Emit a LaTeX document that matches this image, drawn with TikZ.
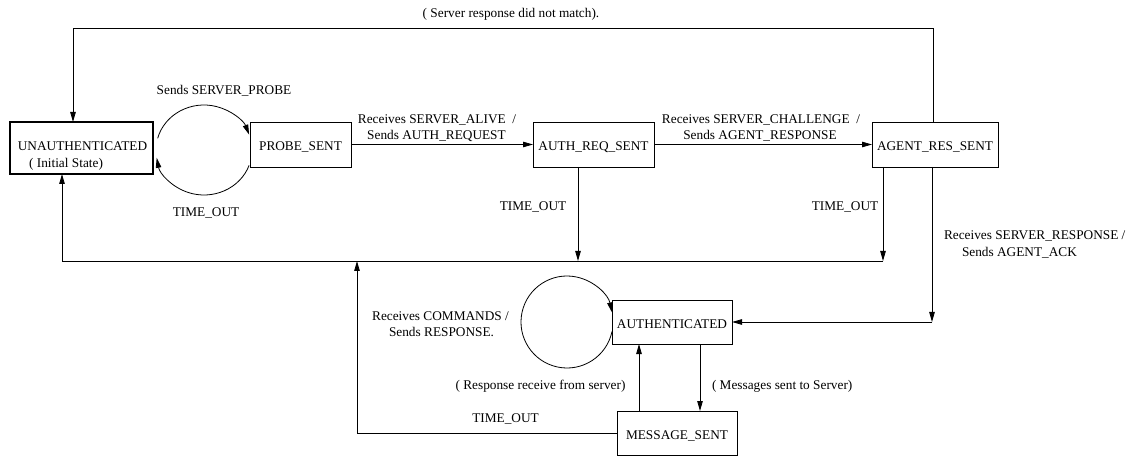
\documentclass[tikz,border=0pt]{standalone}
\usepackage{fontspec}
\setmainfont{Liberation Serif}
\usetikzlibrary{arrows.meta,calc}
\begin{document}
\begin{tikzpicture}[x=1pt,y=1pt,
  every node/.style={font=\fontsize{13.3}{16}\selectfont, inner sep=0pt, outer sep=0pt},
  state/.style={draw, line width=0.8pt, text height=12pt, text depth=0pt},
  lbl/.style={anchor=base},
  lblw/.style={anchor=base west},
  wire/.style={line width=0.8pt},
  arr/.style={wire, -{Triangle[length=10pt,width=5.5pt]}},
]
\useasboundingbox (0,0) rectangle (1128,-457);

% states
\node[state, line width=2.6pt, minimum width=143pt, minimum height=52pt] (unauth) at (81.5,-148) {};
\node[lbl] (unauthA) at (82.5,-150.5) {UNAUTHENTICATED};
\node[lbl] (unauthB) at (66,-167.5) {( Initial State)};
\node[state, minimum width=101pt, minimum height=45pt] (probe) at (300.5,-144.5) {PROBE\_SENT};
\node[state, minimum width=121pt, minimum height=45pt] (authreq) at (593.5,-144.5) {AUTH\_REQ\_SENT};
\node[state, minimum width=126pt, minimum height=45pt] (agent) at (935,-144.5) {AGENT\_RES\_SENT};
\node[state, minimum width=120pt, minimum height=44pt] (auth) at (672,-322) {AUTHENTICATED};
\node[state, minimum width=120pt, minimum height=44pt] (msg) at (677,-433) {MESSAGE\_SENT};

% routing points
\coordinate (topR) at (933,-28);
\coordinate (topL) at (73,-28);
\coordinate (busR) at (883,-261);
\coordinate (busA) at (578,-261);
\coordinate (busL) at (62,-261);
\coordinate (ackC) at (932,-322);
\coordinate (msgL) at (357,-433);
\coordinate (msgT) at (357,-261);
\coordinate (upX) at (639,0);
\coordinate (dnX) at (700,0);
\coordinate (loopA) at (204,-150);
\coordinate (loopB) at (567,-322);

% transitions
\draw[arr] (agent.north -| topR) -- (topR) -- (topL) -- (unauth.north -| topL);
\draw[arr] ($(loopA)+(165:48pt and 45pt)$) arc[start angle=165, end angle=20, x radius=48pt, y radius=45pt];
\draw[arr] ($(loopA)+(-20:48pt and 45pt)$) arc[start angle=-20, end angle=-170, x radius=48pt, y radius=45pt];
\draw[arr] (probe.east) -- (authreq.west);
\draw[arr] (authreq.east) -- (agent.west);
\draw[arr] (authreq.south -| busA) -- (busA);
\draw[arr] (agent.south -| busR) -- (busR);
\draw[arr] (busR) -- (busL) -- (unauth.south -| busL);
\draw[arr] (agent.south -| ackC) -- (ackC);
\draw[arr] (ackC) -- (auth.east);
\draw[arr] (msg.west) -- (msgL) -- (msgT);
\draw[arr] (msg.north -| upX) -- (auth.south -| upX);
\draw[arr] (auth.south -| dnX) -- (msg.north -| dnX);
\draw[arr] ($(loopB)+(-12:46pt)$) arc[start angle=-12, end angle=-348, radius=46pt];

% labels
\node[lbl] (lbMismatch) at (511,-17.5) {( Server response did not match).};
\node[lbl] (lbProbe) at (224,-95) {Sends SERVER\_PROBE};
\node[lbl] (lbTo1) at (206,-216.5) {TIME\_OUT};
\node[lbl] (lbAliveA) at (437,-123.3) {Receives SERVER\_ALIVE\ \ /};
\node[lbl] (lbAliveB) at (436.5,-139.3) {Sends AUTH\_REQUEST};
\node[lbl] (lbChalA) at (761,-123.3) {Receives SERVER\_CHALLENGE\ \ /};
\node[lbl] (lbChalB) at (760,-139.3) {Sends AGENT\_RESPONSE};
\node[lbl] (lbTo2) at (533,-211) {TIME\_OUT};
\node[lbl] (lbTo3) at (845,-211) {TIME\_OUT};
\node[lblw] (lbAckA) at (944,-239.3) {Receives SERVER\_RESPONSE /};
\node[lblw] (lbAckB) at (962,-256.7) {Sends AGENT\_ACK};
\node[lbl] (lbCmdA) at (440.5,-320.7) {Receives COMMANDS /};
\node[lbl] (lbCmdB) at (441.5,-336.7) {Sends RESPONSE.};
\node[lbl] (lbRecv) at (540.5,-389.3) {( Response receive from server)};
\node[lblw] (lbSent) at (712,-389.3) {( Messages sent to Server)};
\node[lbl] (lbTo4) at (505.5,-422) {TIME\_OUT};
\end{tikzpicture}
\end{document}
